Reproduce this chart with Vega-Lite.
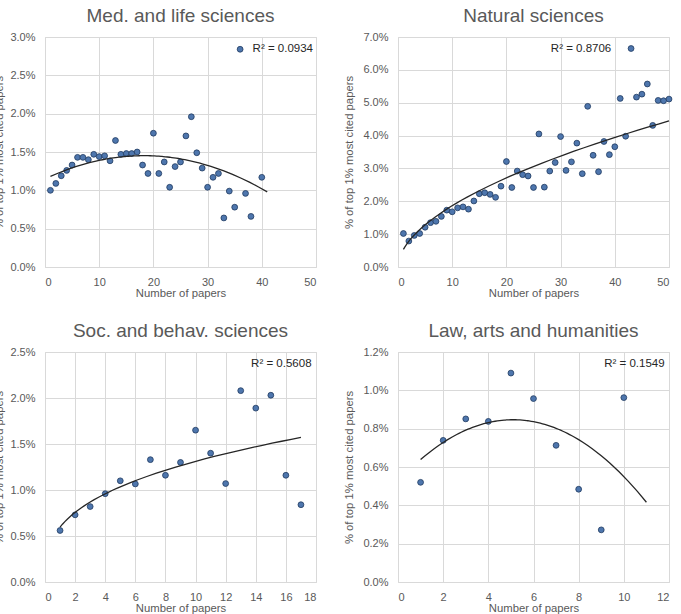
{
  "$schema": "https://vega.github.io/schema/vega-lite/v6.json",
  "padding": {"left": -7, "top": 6, "right": 5, "bottom": 0},
  "background": "white",
  "columns": 2,
  "spacing": {"row": 85, "column": 82},
  "bounds": "flush",
  "datasets": {
    "med": [
      {"papers": 1, "share": 1.00}, {"papers": 2, "share": 1.09}, {"papers": 3, "share": 1.19},
      {"papers": 4, "share": 1.26}, {"papers": 5, "share": 1.33}, {"papers": 6, "share": 1.43},
      {"papers": 7, "share": 1.43}, {"papers": 8, "share": 1.40}, {"papers": 9, "share": 1.47},
      {"papers": 10, "share": 1.44}, {"papers": 11, "share": 1.45}, {"papers": 12, "share": 1.385},
      {"papers": 13, "share": 1.65}, {"papers": 14, "share": 1.47}, {"papers": 15, "share": 1.48},
      {"papers": 16, "share": 1.48}, {"papers": 17, "share": 1.50}, {"papers": 18, "share": 1.33},
      {"papers": 19, "share": 1.22}, {"papers": 20, "share": 1.745}, {"papers": 21, "share": 1.22},
      {"papers": 22, "share": 1.37}, {"papers": 23, "share": 1.04}, {"papers": 24, "share": 1.31},
      {"papers": 25, "share": 1.37}, {"papers": 26, "share": 1.71}, {"papers": 27, "share": 1.96},
      {"papers": 28, "share": 1.49}, {"papers": 29, "share": 1.29}, {"papers": 30, "share": 1.04},
      {"papers": 31, "share": 1.17}, {"papers": 32, "share": 1.22}, {"papers": 33, "share": 0.64},
      {"papers": 34, "share": 0.99}, {"papers": 35, "share": 0.78}, {"papers": 36, "share": 2.84},
      {"papers": 37, "share": 0.96}, {"papers": 38, "share": 0.66}, {"papers": 40, "share": 1.17}
    ],
    "nat": [
      {"papers": 1, "share": 1.02}, {"papers": 2, "share": 0.79}, {"papers": 3, "share": 0.96},
      {"papers": 4, "share": 1.02}, {"papers": 5, "share": 1.21}, {"papers": 6, "share": 1.35},
      {"papers": 7, "share": 1.39}, {"papers": 8, "share": 1.54}, {"papers": 9, "share": 1.73},
      {"papers": 10, "share": 1.68}, {"papers": 11, "share": 1.80}, {"papers": 12, "share": 1.83},
      {"papers": 13, "share": 1.76}, {"papers": 14, "share": 2.01}, {"papers": 15, "share": 2.23},
      {"papers": 16, "share": 2.26}, {"papers": 17, "share": 2.21}, {"papers": 18, "share": 2.12},
      {"papers": 19, "share": 2.46}, {"papers": 20, "share": 3.21}, {"papers": 21, "share": 2.42},
      {"papers": 22, "share": 2.92}, {"papers": 23, "share": 2.81}, {"papers": 24, "share": 2.77},
      {"papers": 25, "share": 2.42}, {"papers": 26, "share": 4.05}, {"papers": 27, "share": 2.43},
      {"papers": 28, "share": 2.92}, {"papers": 29, "share": 3.18}, {"papers": 30, "share": 3.97},
      {"papers": 31, "share": 2.94}, {"papers": 32, "share": 3.20}, {"papers": 33, "share": 3.77},
      {"papers": 34, "share": 2.84}, {"papers": 35, "share": 4.89}, {"papers": 36, "share": 3.40},
      {"papers": 37, "share": 2.90}, {"papers": 38, "share": 3.82}, {"papers": 39, "share": 3.42},
      {"papers": 40, "share": 3.66}, {"papers": 41, "share": 5.13}, {"papers": 42, "share": 3.98},
      {"papers": 43, "share": 6.65}, {"papers": 44, "share": 5.17}, {"papers": 45, "share": 5.26},
      {"papers": 46, "share": 5.57}, {"papers": 47, "share": 4.31}, {"papers": 48, "share": 5.07},
      {"papers": 49, "share": 5.06}, {"papers": 50, "share": 5.11}
    ],
    "soc": [
      {"papers": 1, "share": 0.56}, {"papers": 2, "share": 0.73}, {"papers": 3, "share": 0.82},
      {"papers": 4, "share": 0.96}, {"papers": 5, "share": 1.10}, {"papers": 6, "share": 1.066},
      {"papers": 7, "share": 1.33}, {"papers": 8, "share": 1.16}, {"papers": 9, "share": 1.30},
      {"papers": 10, "share": 1.65}, {"papers": 11, "share": 1.40}, {"papers": 12, "share": 1.07},
      {"papers": 13, "share": 2.08}, {"papers": 14, "share": 1.89}, {"papers": 15, "share": 2.03},
      {"papers": 16, "share": 1.16}, {"papers": 17, "share": 0.84}
    ],
    "law": [
      {"papers": 1, "share": 0.52}, {"papers": 2, "share": 0.739}, {"papers": 3, "share": 0.851},
      {"papers": 4, "share": 0.838}, {"papers": 5, "share": 1.09}, {"papers": 6, "share": 0.957},
      {"papers": 7, "share": 0.713}, {"papers": 8, "share": 0.484}, {"papers": 9, "share": 0.272},
      {"papers": 10, "share": 0.962}
    ]
  },
  "config": {
    "font": "Liberation Sans",
    "view": {"stroke": "#d9d9d9", "strokeWidth": 1},
    "axis": {
      "grid": true,
      "gridColor": "#d9d9d9",
      "gridWidth": 1,
      "domain": false,
      "ticks": false,
      "labelColor": "#595959",
      "labelFontSize": 11,
      "labelPadding": 10,
      "titleColor": "#595959",
      "titleFontSize": 11.3,
      "titleFontWeight": "normal"
    },
    "axisX": {"labelPadding": 9, "titlePadding": 0},
    "axisY": {"titlePadding": 8},
    "title": {"fontSize": 19, "fontWeight": "normal", "color": "#595959", "anchor": "middle", "baseline": "alphabetic", "offset": 5},
    "circle": {"size": 34, "fill": "#4e76ad", "stroke": "#1f3a5f", "strokeWidth": 0.8, "opacity": 1},
    "line": {"color": "#262626", "strokeWidth": 1.3},
    "text": {"align": "left", "baseline": "middle", "fontSize": 11.5, "color": "#262626"}
  },
  "concat": [
    {
      "title": "Med. and life sciences",
      "width": 271,
      "height": 230,
      "data": {"name": "med"},
      "encoding": {
        "x": {"field": "papers", "type": "quantitative", "scale": {"domain": [0, 50], "nice": false},
              "axis": {"values": [0, 10, 20, 30, 40, 50], "title": "Number of papers"}},
        "y": {"field": "share", "type": "quantitative", "scale": {"domain": [0, 3], "nice": false},
              "axis": {"values": [0, 0.5, 1, 1.5, 2, 2.5, 3], "labelExpr": "format(datum.value, '.1f') + '%'", "title": "% of top 1% most cited papers", "titlePadding": 5}}
      },
      "layer": [
        {"mark": "circle"},
        {"transform": [{"regression": "share", "on": "papers", "method": "poly", "order": 2, "extent": [1, 41]}],
         "mark": {"type": "line"}},
        {"data": {"values": [{"papers": 38.3, "share": 2.84, "label": "R² = 0.0934"}]},
         "mark": {"type": "text"},
         "encoding": {"text": {"field": "label"}}}
      ]
    },
    {
      "title": "Natural sciences",
      "width": 271,
      "height": 230,
      "data": {"name": "nat"},
      "encoding": {
        "x": {"field": "papers", "type": "quantitative", "scale": {"domain": [0, 50], "nice": false},
              "axis": {"values": [0, 10, 20, 30, 40, 50], "title": "Number of papers"}},
        "y": {"field": "share", "type": "quantitative", "scale": {"domain": [0, 7], "nice": false},
              "axis": {"values": [0, 1, 2, 3, 4, 5, 6, 7], "labelExpr": "format(datum.value, '.1f') + '%'", "title": "% of top 1% most cited papers"}}
      },
      "layer": [
        {"mark": "circle"},
        {"transform": [{"regression": "share", "on": "papers", "method": "pow", "extent": [1, 50]}],
         "mark": {"type": "line"}},
        {"data": {"values": [{"papers": 28.2, "share": 6.63, "label": "R² = 0.8706"}]},
         "mark": {"type": "text"},
         "encoding": {"text": {"field": "label"}}}
      ]
    },
    {
      "title": "Soc. and behav. sciences",
      "width": 271,
      "height": 230,
      "data": {"name": "soc"},
      "encoding": {
        "x": {"field": "papers", "type": "quantitative", "scale": {"domain": [0, 18], "nice": false},
              "axis": {"values": [0, 2, 4, 6, 8, 10, 12, 14, 16, 18], "title": "Number of papers"}},
        "y": {"field": "share", "type": "quantitative", "scale": {"domain": [0, 2.5], "nice": false},
              "axis": {"values": [0, 0.5, 1, 1.5, 2, 2.5], "labelExpr": "format(datum.value, '.1f') + '%'", "title": "% of top 1% most cited papers", "titlePadding": 5}}
      },
      "layer": [
        {"mark": "circle"},
        {"transform": [{"regression": "share", "on": "papers", "method": "pow", "extent": [1, 17]}],
         "mark": {"type": "line"}},
        {"data": {"values": [{"papers": 13.69, "share": 2.367, "label": "R² = 0.5608"}]},
         "mark": {"type": "text"},
         "encoding": {"text": {"field": "label"}}}
      ]
    },
    {
      "title": "Law, arts and humanities",
      "width": 271,
      "height": 230,
      "data": {"name": "law"},
      "encoding": {
        "x": {"field": "papers", "type": "quantitative", "scale": {"domain": [0, 12], "nice": false},
              "axis": {"values": [0, 2, 4, 6, 8, 10, 12], "title": "Number of papers"}},
        "y": {"field": "share", "type": "quantitative", "scale": {"domain": [0, 1.2], "nice": false},
              "axis": {"values": [0, 0.2, 0.4, 0.6, 0.8, 1, 1.2], "labelExpr": "format(datum.value, '.1f') + '%'", "title": "% of top 1% most cited papers"}}
      },
      "layer": [
        {"mark": "circle"},
        {"transform": [{"regression": "share", "on": "papers", "method": "poly", "order": 2, "extent": [1, 11]}],
         "mark": {"type": "line"}},
        {"data": {"values": [{"papers": 9.13, "share": 1.136, "label": "R² = 0.1549"}]},
         "mark": {"type": "text"},
         "encoding": {"text": {"field": "label"}}}
      ]
    }
  ]
}
